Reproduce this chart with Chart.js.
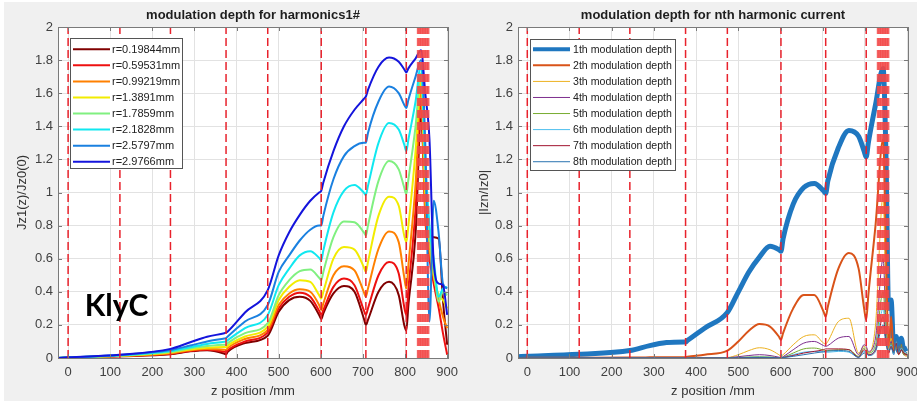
<!DOCTYPE html>
<html>
<head>
<meta charset="utf-8">
<script src="https://cdn.jsdelivr.net/npm/chart.js@4.4.0/dist/chart.umd.min.js"></script>
<style>
  html, body { margin: 0; padding: 0; background: #fff; }
  #wrap { position: absolute; left: 4px; top: 2px; width: 913px; height: 399px; background: #f0f0f0; }
  canvas { position: absolute; top: 0; }
  #left { left: 0; }
  #right { left: 454px; }
</style>
</head>
<body>
<div id="wrap">
  <canvas id="left" width="454" height="399" style="width:454px;height:399px"></canvas>
  <canvas id="right" width="459" height="399" style="width:459px;height:399px"></canvas>
</div>
<script>
// cavity gap positions (mm), red dashed markers
const cavityZ = [0, 123, 243, 375, 474, 601, 707, 803];
const outputZ = [831, 835, 839, 843, 847, 851, 855];

// ---- left: harmonic 1 modulation depth for several radii ----
const zLeft = [-24, 0, 122, 243, 290, 330, 371, 375, 379, 420, 474, 500, 525, 550, 575, 596, 601, 606, 630, 655, 680, 702, 707, 712, 737, 762, 785, 798, 803, 808, 825, 838, 848, 858, 868, 880, 890, 900];
const radiusLabels = ['r=0.19844mm', 'r=0.59531mm', 'r=0.99219mm', 'r=1.3891mm', 'r=1.7859mm', 'r=2.1828mm', 'r=2.5797mm', 'r=2.9766mm'];
const r0_19844 = [0, 0.002, 0.01, 0.022, 0.04, 0.047, 0.026, 0.022, 0.037, 0.09, 0.135, 0.28, 0.35, 0.37, 0.345, 0.26, 0.235, 0.27, 0.39, 0.435, 0.40, 0.24, 0.20, 0.23, 0.40, 0.46, 0.38, 0.20, 0.165, 0.32, 0.75, 1.45, 0.95, 0.75, 0.73, 0.72, 0.35, 0.08];
const r0_59531 = [0, 0.002, 0.011, 0.025, 0.043, 0.05, 0.038, 0.035, 0.047, 0.10, 0.155, 0.30, 0.37, 0.395, 0.37, 0.285, 0.26, 0.29, 0.43, 0.48, 0.44, 0.29, 0.26, 0.30, 0.50, 0.58, 0.51, 0.31, 0.26, 0.42, 0.90, 1.55, 0.85, 0.60, 0.45, 0.30, 0.15, 0.02];
const r0_99219 = [0, 0.002, 0.012, 0.028, 0.047, 0.054, 0.05, 0.048, 0.06, 0.115, 0.17, 0.32, 0.39, 0.415, 0.40, 0.32, 0.29, 0.33, 0.50, 0.555, 0.53, 0.40, 0.37, 0.42, 0.66, 0.765, 0.70, 0.49, 0.42, 0.56, 1.05, 1.62, 0.90, 0.65, 0.50, 0.35, 0.25, 0.18];
const r1_3891 = [0, 0.003, 0.013, 0.033, 0.052, 0.062, 0.066, 0.065, 0.075, 0.13, 0.19, 0.35, 0.43, 0.47, 0.46, 0.38, 0.36, 0.40, 0.60, 0.67, 0.655, 0.55, 0.52, 0.58, 0.86, 0.975, 0.92, 0.74, 0.70, 0.80, 1.25, 1.68, 1.00, 0.70, 0.50, 0.38, 0.35, 0.30];
const r1_7859 = [0, 0.003, 0.014, 0.037, 0.058, 0.072, 0.08, 0.08, 0.09, 0.15, 0.21, 0.38, 0.47, 0.525, 0.535, 0.485, 0.47, 0.52, 0.73, 0.825, 0.82, 0.76, 0.74, 0.80, 1.07, 1.19, 1.14, 1.03, 0.99, 1.08, 1.40, 1.72, 1.10, 0.75, 0.55, 0.34, 0.40, 0.38];
const r2_1828 = [0, 0.003, 0.016, 0.042, 0.065, 0.085, 0.098, 0.10, 0.108, 0.18, 0.26, 0.44, 0.54, 0.62, 0.645, 0.605, 0.59, 0.65, 0.88, 1.01, 1.045, 1.0, 0.985, 1.04, 1.30, 1.42, 1.38, 1.29, 1.25, 1.32, 1.55, 1.77, 1.20, 0.80, 0.60, 0.37, 0.42, 0.43];
const r2_5797 = [0, 0.003, 0.018, 0.048, 0.075, 0.10, 0.118, 0.12, 0.13, 0.22, 0.32, 0.52, 0.62, 0.71, 0.775, 0.80, 0.80, 0.86, 1.08, 1.22, 1.28, 1.30, 1.30, 1.36, 1.55, 1.64, 1.60, 1.53, 1.51, 1.56, 1.70, 1.80, 1.30, 0.22, 0.95, 0.75, 0.45, 0.42];
const r2_9766 = [0, 0.004, 0.02, 0.055, 0.095, 0.128, 0.150, 0.153, 0.16, 0.275, 0.41, 0.62, 0.76, 0.865, 0.95, 1.0, 1.01, 1.06, 1.25, 1.40, 1.50, 1.565, 1.58, 1.62, 1.76, 1.815, 1.79, 1.745, 1.725, 1.75, 1.81, 1.86, 1.60, 1.32, 0.58, 0.45, 0.44, 0.26];
const radiusColors = ['#800000', '#ee1010', '#ff8000', '#f2ec00', '#80f080', '#10e8f0', '#1a80e0', '#1414dc'];

// ---- right: nth harmonic current modulation depth ----
const zRight = [-22, 0, 122, 243, 290, 330, 371, 375, 379, 420, 474, 500, 525, 550, 575, 596, 601, 606, 630, 655, 680, 702, 707, 712, 737, 762, 785, 798, 803, 808, 825, 843, 850, 856, 862, 868, 874, 880, 886, 892, 900];
const harmLabels = ['1th modulation depth', '2th modulation depth', '3th modulation depth', '4th modulation depth', '5th modulation depth', '6th modulation depth', '7th modulation depth', '8th modulation depth'];
const h1 = [0.008, 0.01, 0.022, 0.045, 0.075, 0.093, 0.097, 0.097, 0.105, 0.18, 0.275, 0.40, 0.52, 0.61, 0.675, 0.655, 0.645, 0.72, 0.93, 1.03, 1.055, 1.01, 0.995, 1.07, 1.27, 1.375, 1.34, 1.25, 1.215, 1.30, 1.53, 1.75, 1.20, 0.30, 0.35, 0.06, 0.13, 0.04, 0.12, 0.05, 0.06];
const h2 = [0, 0.001, 0.002, 0.003, 0.004, 0.005, 0.005, 0.005, 0.007, 0.02, 0.045, 0.10, 0.165, 0.205, 0.19, 0.13, 0.11, 0.15, 0.30, 0.38, 0.38, 0.28, 0.25, 0.31, 0.54, 0.635, 0.54, 0.30, 0.23, 0.38, 0.80, 1.32, 0.60, 0.05, 0.25, 0.04, 0.10, 0.03, 0.08, 0.03, 0.02];
const h3 = [0, 0, 0, 0.001, 0.001, 0.001, 0.001, 0.001, 0.001, 0.002, 0.003, 0.02, 0.045, 0.062, 0.05, 0.02, 0.012, 0.02, 0.08, 0.13, 0.14, 0.09, 0.085, 0.10, 0.22, 0.24, 0.03, 0.07, 0.06, 0.03, 0.20, 0.98, 0.30, 0.05, 0.12, 0.03, 0.08, 0.02, 0.06, 0.02, 0.01];
const h4 = [0, 0, 0, 0, 0, 0, 0, 0, 0, 0.001, 0.002, 0.008, 0.015, 0.02, 0.015, 0.005, 0.003, 0.008, 0.05, 0.09, 0.10, 0.075, 0.07, 0.075, 0.12, 0.13, 0.02, 0.08, 0.07, 0.04, 0.12, 0.60, 0.20, 0.03, 0.10, 0.02, 0.09, 0.03, 0.07, 0.02, 0.02];
const h5 = [0, 0, 0, 0, 0, 0, 0, 0, 0, 0, 0.001, 0.003, 0.006, 0.008, 0.006, 0.002, 0.001, 0.004, 0.03, 0.055, 0.06, 0.048, 0.045, 0.045, 0.05, 0.05, 0.01, 0.06, 0.05, 0.03, 0.08, 0.40, 0.15, 0.04, 0.09, 0.03, 0.07, 0.04, 0.08, 0.02, 0.03];
const h6 = [0, 0, 0, 0, 0, 0, 0, 0, 0, 0, 0, 0.002, 0.004, 0.005, 0.004, 0.001, 0.001, 0.003, 0.02, 0.035, 0.04, 0.036, 0.035, 0.035, 0.04, 0.035, 0.005, 0.04, 0.035, 0.02, 0.06, 0.30, 0.12, 0.05, 0.08, 0.02, 0.10, 0.03, 0.06, 0.04, 0.02];
const h7 = [0, 0, 0, 0, 0, 0, 0, 0, 0, 0, 0, 0.001, 0.002, 0.003, 0.002, 0.001, 0, 0.003, 0.015, 0.03, 0.04, 0.05, 0.055, 0.055, 0.055, 0.05, 0.005, 0.05, 0.04, 0.02, 0.05, 0.25, 0.10, 0.03, 0.07, 0.04, 0.09, 0.02, 0.05, 0.03, 0.02];
const h8 = [0, 0, 0, 0, 0, 0, 0, 0, 0, 0, 0, 0.001, 0.002, 0.002, 0.002, 0.001, 0, 0.002, 0.01, 0.02, 0.03, 0.038, 0.04, 0.042, 0.045, 0.04, 0.003, 0.03, 0.03, 0.015, 0.04, 0.20, 0.08, 0.04, 0.06, 0.03, 0.12, 0.04, 0.09, 0.05, 0.03];
const harmColors = ['#1f77c0', '#d95319', '#edb120', '#7e2f8e', '#77ac30', '#4dbeee', '#a2142f', '#2a72b0'];
const harmWidths = [5, 2, 1, 1, 1, 1, 1, 1];

Chart.defaults.font.family = "'Liberation Sans', Arial, sans-serif";
const FONT = "'Liberation Sans', Arial, sans-serif";

function series(label, xs, ys, color, width, order) {
  return {
    label: label,
    data: xs.map((x, i) => ({ x: x, y: ys[i] })),
    borderColor: color,
    borderWidth: width,
    pointRadius: 0,
    cubicInterpolationMode: 'monotone',
    fill: false,
    order: order
  };
}

function marker(z, width, color) {
  return {
    data: [{ x: z, y: 0 }, { x: z, y: 2 }],
    borderColor: color,
    borderWidth: width,
    borderDash: [8, 4],
    pointRadius: 0,
    order: 0
  };
}

function markers() {
  const list = cavityZ.map(z => marker(z, 1.5, '#e8222c'));
  outputZ.forEach(z => list.push(marker(z, 2.5, 'rgba(242,70,70,0.85)')));
  return list;
}

// background, box, inward ticks, title, legend box and text note
const framePlugin = {
  id: 'frame',
  beforeDraw(chart) {
    const { ctx, chartArea: a } = chart;
    ctx.save();
    ctx.fillStyle = '#f0f0f0';
    ctx.fillRect(0, 0, chart.width, chart.height);
    ctx.fillStyle = '#ffffff';
    ctx.fillRect(a.left, a.top, a.right - a.left, a.bottom - a.top);
    ctx.restore();
  },
  afterDraw(chart, args, opts) {
    const { ctx, chartArea: a } = chart;
    const xs = chart.scales.x, ys = chart.scales.y;
    ctx.save();
    ctx.strokeStyle = '#7a7a7a';
    ctx.lineWidth = 1;
    ctx.strokeRect(Math.round(a.left) + 0.5, Math.round(a.top) + 0.5, Math.round(a.right - a.left), Math.round(a.bottom - a.top));
    ctx.beginPath();
    xs.ticks.forEach(t => {
      const px = Math.round(xs.getPixelForValue(t.value)) + 0.5;
      ctx.moveTo(px, a.bottom); ctx.lineTo(px, a.bottom - 4);
      ctx.moveTo(px, a.top); ctx.lineTo(px, a.top + 4);
    });
    ys.ticks.forEach(t => {
      const py = Math.round(ys.getPixelForValue(t.value)) + 0.5;
      ctx.moveTo(a.left, py); ctx.lineTo(a.left + 4, py);
      ctx.moveTo(a.right, py); ctx.lineTo(a.right - 4, py);
    });
    ctx.stroke();

    ctx.fillStyle = '#1e1e1e';
    ctx.font = 'bold 13px ' + FONT;
    ctx.textAlign = 'center';
    ctx.textBaseline = 'middle';
    ctx.fillText(opts.title, (a.left + a.right) / 2, opts.titleY);

    const lg = opts.legend;
    ctx.fillStyle = '#ffffff';
    ctx.fillRect(lg.x, lg.y, lg.w, lg.h);
    ctx.strokeStyle = '#555';
    ctx.strokeRect(lg.x + 0.5, lg.y + 0.5, lg.w, lg.h);
    const entries = chart.data.datasets.filter(d => d.label);
    ctx.font = lg.font + 'px ' + FONT;
    ctx.textAlign = 'left';
    entries.forEach((d, i) => {
      const cy = lg.y + lg.first + i * lg.step;
      ctx.strokeStyle = d.borderColor;
      ctx.lineWidth = Math.min(d.borderWidth, 4);
      ctx.beginPath();
      ctx.moveTo(lg.x + 3, cy); ctx.lineTo(lg.x + 40, cy);
      ctx.stroke();
      ctx.fillStyle = '#222';
      ctx.fillText(d.label, lg.x + lg.textX, cy + 0.5);
    });

    if (opts.note) {
      ctx.fillStyle = '#000';
      ctx.font = 'bold 30px Lato, ' + FONT;
      ctx.textAlign = 'center';
      ctx.fillText(opts.note.text, xs.getPixelForValue(opts.note.x), ys.getPixelForValue(opts.note.y));
    }
    ctx.restore();
  }
};

function makeOptions(cfg) {
  return {
    responsive: false,
    animation: false,
    devicePixelRatio: 1,
    events: [],
    layout: { padding: { left: 0, right: cfg.padRight, top: 25, bottom: 0 } },
    scales: {
      x: {
        type: 'linear',
        min: cfg.xMin,
        max: 902,
        afterFit: s => { s.height = 43; s.paddingLeft = 0; s.paddingRight = 0; },
        grid: { color: '#e2e2e2', drawTicks: false },
        border: { display: false },
        ticks: { stepSize: 100, includeBounds: false, padding: 7, color: '#404040', font: { size: 13 }, maxRotation: 0, autoSkip: false },
        title: { display: true, text: 'z position /mm', color: '#333', font: { size: 13 }, padding: { top: 0, bottom: 2 } }
      },
      y: {
        type: 'linear',
        min: 0,
        max: 2,
        afterFit: s => { s.width = cfg.yWidth; s.paddingTop = 0; s.paddingBottom = 0; },
        grid: { color: '#e2e2e2', drawTicks: false },
        border: { display: false },
        ticks: { stepSize: 0.2, padding: 5, color: '#404040', font: { size: 13 }, callback: v => String(+v.toFixed(1)) },
        title: { display: true, text: cfg.yTitle, color: '#333', font: { size: 13 }, padding: { top: cfg.yTitlePad, bottom: 0 } }
      }
    },
    plugins: {
      legend: { display: false },
      tooltip: { enabled: false },
      title: { display: false },
      frame: {
        title: cfg.title,
        titleY: 13,
        legend: cfg.legend,
        note: cfg.note
      }
    }
  };
}

const leftSets = [r0_19844, r0_59531, r0_99219, r1_3891, r1_7859, r2_1828, r2_5797, r2_9766]
  .map((ys, i) => series(radiusLabels[i], zLeft, ys, radiusColors[i], 2, 100 - i));
new Chart(document.getElementById('left'), {
  type: 'line',
  data: { datasets: markers().concat(leftSets) },
  options: makeOptions({
    padRight: 10, xMin: -24, yWidth: 54, yTitle: 'Jz1(z)/Jz0(0)', yTitlePad: 11,
    title: 'modulation depth for harmonics1#',
    legend: { x: 66, y: 36, w: 112, h: 130, first: 11.3, step: 16.06, textX: 42, font: 11 },
    note: { text: 'KlyC', x: 115, y: 0.31 }
  }),
  plugins: [framePlugin]
});

const rightSets = [h1, h2, h3, h4, h5, h6, h7, h8]
  .map((ys, i) => series(harmLabels[i], zRight, ys, harmColors[i], harmWidths[i], 100 - i));
new Chart(document.getElementById('right'), {
  type: 'line',
  data: { datasets: markers().concat(rightSets) },
  options: makeOptions({
    padRight: 9, xMin: -22, yWidth: 60, yTitle: '|Izn/Iz0|', yTitlePad: 19,
    title: 'modulation depth for nth harmonic current',
    legend: { x: 72, y: 37, w: 145, h: 131, first: 10.3, step: 16.06, textX: 43, font: 10.6 }
  }),
  plugins: [framePlugin]
});
</script>
</body>
</html>
